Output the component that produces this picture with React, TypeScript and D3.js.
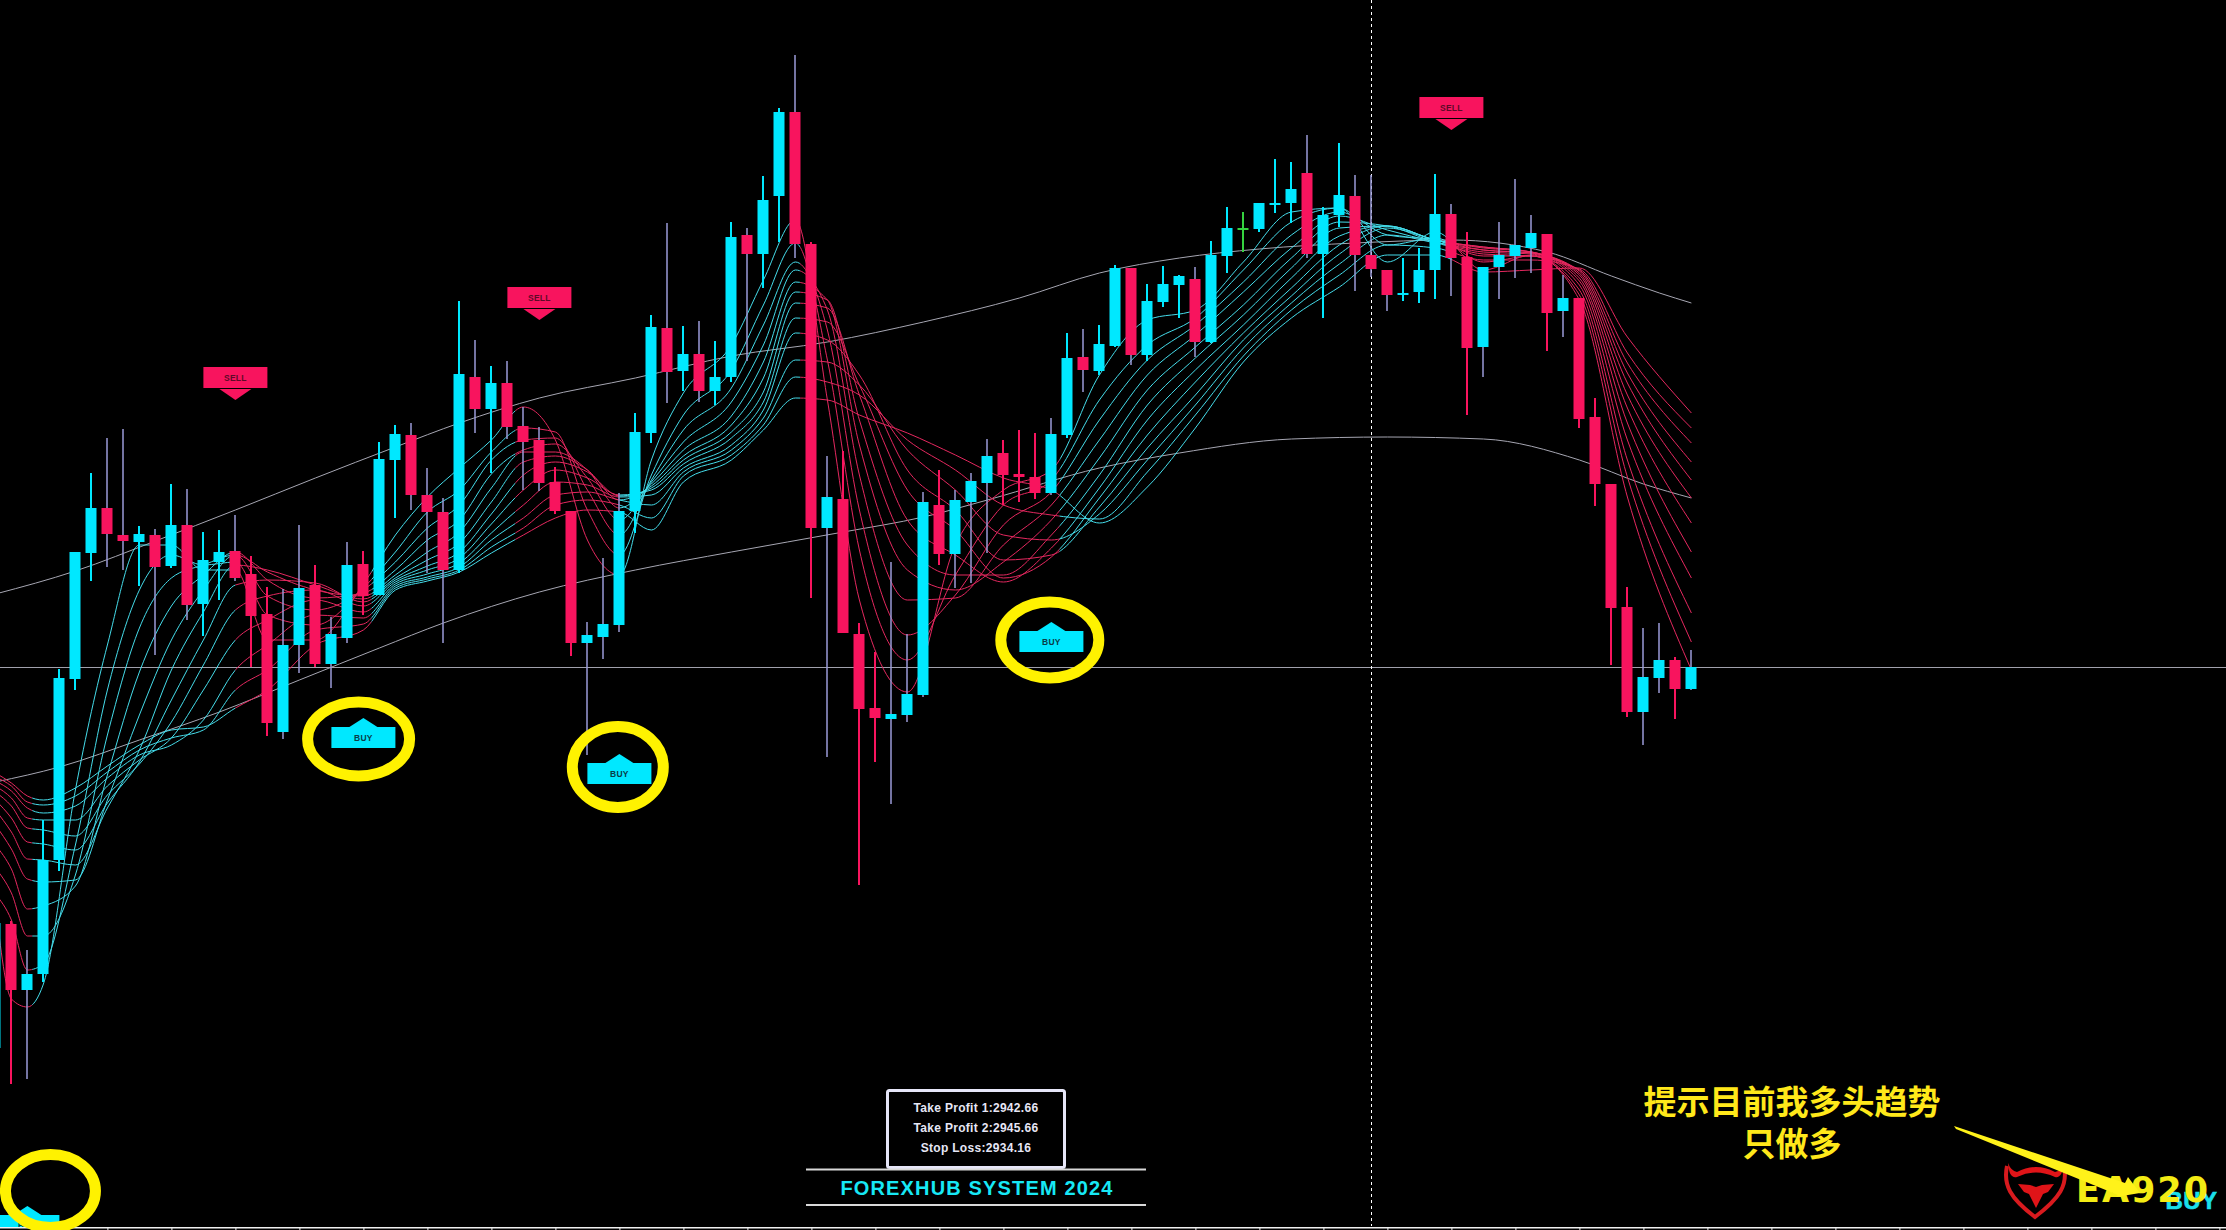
import { useEffect, useRef } from 'react'
import * as d3 from 'd3'

const WIDTH = 2226
const HEIGHT = 1230

const CYAN = '#00e8ff'
const RED = '#f8145e'
const GREEN = '#35d23f'
const PURPLE = '#9a9ad8'
const YELLOW = '#fff200'

// Candles, first bar is -1 (cut by the left edge)
const firstBar = -1
const opens = [2899.2,2911.6,2905.0,2906.6,2918.0,2936.1,2948.7,2953.2,2950.5,2949.8,2950.5,2947.4,2951.5,2943.6,2947.8,2948.9,2946.6,2942.6,2930.8,2939.5,2945.5,2937.6,2940.2,2947.6,2944.5,2958.0,2960.5,2954.5,2952.8,2947.0,2966.3,2963.1,2965.7,2961.4,2960.0,2955.8,2952.9,2939.7,2940.3,2941.5,2952.9,2960.7,2971.2,2966.9,2968.6,2964.9,2966.3,2980.5,2978.6,2984.4,2992.8,2979.6,2951.2,2954.1,2940.6,2933.2,2932.1,2932.5,2934.5,2953.5,2948.6,2953.8,2955.7,2958.7,2956.6,2956.3,2954.7,2960.5,2968.3,2966.9,2969.4,2977.2,2968.5,2973.8,2975.5,2976.1,2969.8,2978.4,2981.1,2981.1,2983.5,2983.7,2986.7,2978.6,2982.5,2984.4,2978.5,2977.0,2974.6,2974.8,2977.0,2982.6,2978.3,2969.3,2977.3,2978.4,2979.2,2980.6,2972.9,2974.2,2962.3,2955.6,2943.3,2932.8,2936.2,2938.0,2935.1]
const closes = [2911.7,2905.0,2906.6,2918.0,2936.2,2948.8,2953.2,2950.6,2949.9,2950.6,2947.3,2951.5,2943.5,2948.0,2948.8,2946.2,2942.4,2931.7,2939.5,2945.2,2937.6,2940.6,2947.5,2944.4,2958.1,2960.6,2954.5,2952.8,2947.0,2966.6,2963.1,2965.7,2961.3,2959.8,2955.7,2952.9,2939.7,2940.5,2941.6,2952.9,2960.8,2971.3,2966.8,2968.6,2964.9,2966.3,2980.3,2978.6,2984.0,2992.8,2979.6,2951.2,2954.3,2940.7,2933.1,2932.2,2932.6,2934.6,2953.8,2948.6,2954.0,2955.9,2958.4,2956.5,2956.3,2954.7,2960.6,2968.2,2967.0,2969.6,2977.2,2968.5,2973.9,2975.6,2976.4,2969.8,2978.5,2981.2,2981.2,2983.7,2983.7,2985.1,2978.6,2982.5,2984.5,2978.5,2977.1,2974.5,2974.7,2977.0,2982.6,2978.2,2969.2,2977.3,2978.5,2979.5,2980.7,2972.7,2974.2,2962.1,2955.6,2943.2,2932.8,2936.3,2938.0,2935.1,2937.3]
const highs = [2911.7,2911.9,2909.0,2922.0,2937.1,2948.8,2956.7,2960.2,2961.1,2951.4,2951.1,2955.6,2955.1,2950.8,2951.0,2952.5,2948.4,2945.3,2945.1,2951.5,2947.5,2942.3,2949.8,2948.9,2959.8,2961.5,2961.7,2957.2,2954.2,2973.9,2970.0,2967.4,2967.9,2963.3,2961.3,2957.3,2952.9,2941.8,2948.2,2954.7,2962.7,2972.5,2981.7,2971.4,2971.9,2969.9,2981.8,2981.2,2986.4,2993.2,2998.5,2979.8,2958.4,2958.9,2941.7,2938.8,2947.8,2940.6,2954.8,2957.0,2955.0,2956.7,2960.1,2960.0,2961.0,2960.7,2962.2,2970.7,2971.1,2971.5,2977.5,2977.2,2975.6,2977.4,2976.5,2977.3,2979.9,2983.3,2982.8,2983.7,2988.1,2987.8,2990.5,2983.3,2989.7,2986.5,2986.5,2977.0,2978.2,2979.2,2986.6,2983.6,2980.8,2977.3,2981.8,2986.1,2982.5,2980.6,2976.5,2974.2,2964.2,2955.6,2945.3,2941.2,2941.7,2938.3,2939.0]
const lows = [2899.2,2895.6,2896.1,2905.8,2916.9,2935.0,2945.9,2947.3,2947.0,2945.4,2938.5,2947.2,2942.0,2940.4,2944.0,2945.9,2937.3,2930.4,2930.1,2936.7,2937.3,2935.2,2939.7,2942.5,2944.5,2952.2,2953.0,2946.7,2939.7,2946.7,2960.7,2956.7,2960.1,2955.0,2954.9,2952.6,2938.4,2928.5,2938.1,2940.8,2950.7,2959.7,2963.7,2964.9,2963.8,2963.5,2965.8,2967.9,2975.2,2979.8,2978.2,2944.2,2928.3,2940.7,2915.5,2927.8,2923.6,2931.8,2934.3,2947.5,2945.2,2945.7,2948.7,2953.5,2953.8,2954.1,2954.5,2960.2,2964.8,2966.5,2969.3,2967.5,2967.9,2973.3,2972.2,2968.3,2969.7,2976.7,2978.8,2980.8,2982.7,2981.7,2978.2,2972.2,2981.3,2974.9,2976.3,2972.9,2973.9,2973.7,2974.1,2974.4,2962.5,2966.3,2974.1,2976.2,2976.7,2968.9,2970.3,2961.2,2953.4,2937.5,2932.3,2929.5,2934.7,2932.1,2935.0]
const purpleWickBars = [-1,1,6,7,9,11,14,17,18,20,21,25,26,27,29,31,32,33,36,37,38,41,43,46,49,51,55,56,57,59,60,61,65,67,70,74,81,84,85,86,90,92,93,94,95,97,102,103,105]
const dojiBars = [77]

// Two slow moving averages
const maUpperBars = [-1,4,9,14,19,24,28,33,39,45,51,57,63,68,73,78,84,90,96,100,103,105]
const maUpper = [2944.6,2946.9,2949.9,2953.0,2956.2,2959.3,2961.7,2964.2,2966.2,2968.4,2969.8,2971.8,2974.2,2976.7,2978.2,2979.1,2979.7,2980.0,2978.8,2976.4,2974.7,2973.7]
const maLowerBars = [-1,3,8,13,18,23,27,33,39,45,52,57,61,68,73,80,86,92,98,102,105]
const maLower = [2925.8,2927.3,2930.0,2932.8,2936.0,2939.2,2941.7,2944.8,2947.0,2948.8,2950.8,2952.3,2954.0,2957.2,2958.7,2960.1,2960.3,2960.1,2958.0,2955.6,2954.2]

// Ribbon: one row per sampled bar, twelve averages from fastest to slowest
const ribbonBars = [-1,0,1,2,4,6,8,10,12,14,16,19,22,24,26,28,30,32,34,36,38,40,42,45,47,49,51,53,56,59,62,65,68,71,74,77,80,83,86,89,92,95,98,101,105]
const ribbonRows = [
  [2913.5,2914.6,2917.2,2919.5,2921.5,2923.0,2924.0,2924.8,2925.4,2925.9,2926.3,2926.7],
  [2904.1,2912.0,2914.7,2917.1,2919.1,2920.8,2922.2,2923.4,2924.2,2924.9,2925.4,2925.7],
  [2903.3,2907.0,2910.4,2913.1,2916.1,2918.1,2919.8,2921.2,2922.2,2923.2,2923.8,2924.4],
  [2905.6,2907.6,2910.4,2913.4,2915.8,2918.0,2919.6,2921.0,2922.0,2922.7,2923.5,2924.0],
  [2925.0,2919.5,2916.5,2915.4,2916.0,2917.5,2919.0,2920.4,2922.0,2923.4,2924.4,2925.2],
  [2939.5,2935.0,2930.5,2926.5,2924.0,2923.2,2923.7,2924.5,2925.4,2926.2,2926.8,2927.4],
  [2949.5,2945.0,2941.2,2936.8,2932.5,2929.0,2927.8,2927.6,2928.0,2928.5,2929.0,2929.5],
  [2949.5,2948.5,2946.2,2943.4,2940.0,2937.0,2934.0,2931.8,2930.2,2929.5,2930.2,2931.0],
  [2947.0,2947.5,2947.5,2946.5,2945.0,2942.8,2940.0,2937.5,2935.0,2932.0,2931.0,2931.3],
  [2947.0,2947.8,2948.5,2948.8,2948.5,2947.5,2945.5,2943.0,2940.0,2937.0,2935.0,2933.2],
  [2940.0,2942.5,2944.4,2946.0,2946.8,2947.0,2946.0,2944.4,2942.0,2939.5,2937.0,2935.0],
  [2940.0,2941.5,2943.0,2944.2,2945.0,2945.5,2945.7,2945.0,2944.0,2942.5,2941.0,2939.5],
  [2945.6,2945.2,2945.0,2944.7,2944.4,2944.1,2943.8,2943.4,2942.8,2942.2,2941.6,2941.0],
  [2950.5,2948.8,2947.8,2947.0,2946.5,2946.2,2946.0,2945.8,2945.6,2945.4,2945.2,2945.0],
  [2954.3,2952.8,2951.2,2950.0,2948.8,2948.0,2947.4,2947.0,2946.6,2946.3,2946.1,2945.9],
  [2957.2,2955.0,2953.5,2952.0,2950.8,2949.7,2948.8,2948.2,2947.7,2947.3,2947.0,2946.8],
  [2960.0,2958.8,2958.0,2956.6,2955.2,2953.8,2952.6,2951.6,2950.7,2950.0,2949.3,2948.7],
  [2963.3,2961.2,2960.0,2959.0,2958.8,2957.8,2956.5,2955.0,2953.5,2952.2,2951.2,2950.5],
  [2960.0,2960.8,2960.2,2959.6,2958.8,2958.4,2957.8,2957.0,2955.8,2954.5,2953.5,2952.2],
  [2950.0,2953.0,2955.0,2956.2,2957.0,2957.0,2956.8,2956.2,2955.5,2954.8,2954.0,2953.0],
  [2946.5,2948.5,2950.5,2952.0,2953.2,2954.0,2954.4,2954.5,2954.3,2954.0,2953.5,2952.8],
  [2958.0,2956.5,2956.0,2955.8,2955.6,2955.4,2955.2,2955.0,2954.5,2953.5,2952.2,2951.0],
  [2964.7,2962.5,2961.0,2959.8,2959.0,2958.4,2958.0,2957.6,2957.2,2956.8,2956.4,2955.8],
  [2969.5,2967.0,2965.2,2963.8,2962.4,2961.5,2960.8,2960.2,2959.5,2959.0,2958.5,2958.0],
  [2976.0,2973.5,2971.5,2969.5,2967.8,2966.2,2964.8,2963.8,2963.0,2962.2,2961.5,2961.0],
  [2982.0,2979.7,2977.8,2977.0,2975.8,2974.8,2973.7,2972.2,2970.7,2968.0,2966.3,2964.2],
  [2964.0,2968.0,2971.0,2973.0,2974.0,2974.0,2973.2,2971.8,2970.0,2967.8,2965.8,2964.0],
  [2944.0,2949.0,2953.0,2956.5,2959.5,2962.0,2964.5,2965.5,2966.5,2965.5,2964.5,2962.5],
  [2934.8,2938.0,2940.5,2944.0,2947.0,2949.5,2952.0,2955.0,2957.0,2959.0,2960.0,2960.7],
  [2949.5,2946.5,2944.5,2944.2,2945.0,2946.5,2948.5,2951.0,2953.0,2955.0,2957.0,2958.5],
  [2955.0,2953.5,2951.5,2949.5,2947.8,2946.5,2945.8,2946.2,2948.0,2950.5,2953.5,2956.2],
  [2957.0,2956.0,2954.8,2953.5,2952.0,2950.5,2949.2,2948.3,2948.5,2950.0,2952.5,2955.0],
  [2966.5,2964.0,2962.0,2960.0,2958.2,2956.5,2955.2,2954.2,2953.3,2952.6,2952.1,2951.7],
  [2972.0,2969.5,2968.0,2966.5,2965.0,2963.5,2962.0,2960.5,2959.2,2958.0,2956.8,2955.3],
  [2973.0,2972.2,2971.5,2970.5,2969.3,2968.2,2967.0,2965.8,2964.5,2963.5,2962.5,2961.2],
  [2977.8,2977.0,2975.8,2974.8,2973.5,2972.5,2971.5,2970.7,2970.0,2969.2,2968.4,2967.8],
  [2982.8,2981.8,2980.5,2979.2,2978.2,2977.2,2976.2,2975.2,2974.4,2973.7,2973.0,2972.2],
  [2983.2,2983.2,2982.8,2982.4,2981.8,2981.2,2980.4,2979.5,2978.6,2977.6,2976.5,2975.3],
  [2977.8,2979.5,2980.5,2981.0,2981.4,2981.4,2981.4,2981.4,2981.2,2980.5,2979.5,2978.5],
  [2980.8,2980.2,2980.0,2979.8,2979.8,2980.0,2980.0,2980.0,2980.0,2979.7,2979.2,2978.5],
  [2977.0,2977.8,2978.4,2978.8,2979.0,2979.2,2979.3,2979.3,2979.0,2978.6,2978.0,2976.8],
  [2978.5,2978.4,2978.4,2978.6,2978.7,2978.8,2978.8,2978.8,2978.7,2978.4,2978.0,2977.0],
  [2974.0,2974.5,2975.0,2975.5,2975.9,2976.2,2976.5,2976.7,2976.9,2977.0,2977.1,2977.2],
  [2954.3,2956.3,2958.0,2960.0,2961.7,2963.2,2964.5,2965.7,2966.7,2967.7,2968.7,2970.3],
  [2937.0,2939.8,2942.7,2946.2,2948.8,2951.7,2954.2,2956.0,2957.8,2959.7,2961.2,2962.7],
]
// Bar ranges where the ribbon is drawn red, cyan everywhere else
const bearRanges = [[-2, 1.3], [14, 22.5], [31.5, 38], [49.3, 65.5], [90, 106]]

// Signals, the price is where the arrow tip sits
const sellBars = [14, 33, 90]
const sellPrices = [2964.0, 2972.0, 2991.0]
const buyBars = [1, 22, 38, 65]
const buyPrices = [2883.4, 2932.2, 2928.6, 2941.8]

// Hand drawn yellow rings around the buy signals
const ringBars = [21.7, 37.9, 64.9, 2.44]
const ringPrices = [2930.1, 2927.3, 2940.0, 2884.9]
const ringRx = [51, 45.5, 49, 45]
const ringRy = [37, 40.5, 38, 36.5]

const crossBar = 85
const crossPrice = 2937.3
const axisTicks = d3.range(2, 139, 4)

const panelLines = ['Take Profit 1:2942.66', 'Take Profit 2:2945.66', 'Stop Loss:2934.16']
const panelTitle = 'FOREXHUB SYSTEM 2024'
const noteLines = ['提示目前我多头趋势', '只做多']

export default function App() {
  const svgRef = useRef<SVGSVGElement>(null)

  useEffect(() => {
    if (!svgRef.current) return
    const svg = d3.select(svgRef.current)
    svg.selectAll('*').remove()

    const x = d3.scaleLinear().domain([0, 138]).range([11.4, 2219.4])
    const y = d3.scaleLinear().domain([3004, 2881]).range([0, HEIGHT])

    const defs = svg.append('defs')
    defs
      .append('clipPath')
      .attr('id', 'bear-clip')
      .selectAll('rect')
      .data(bearRanges)
      .join('rect')
      .attr('x', (d) => x(d[0]))
      .attr('width', (d) => x(d[1]) - x(d[0]))
      .attr('y', 0)
      .attr('height', HEIGHT)
    // Bull ranges are the gaps between the bear ranges
    const bullClip = defs.append('clipPath').attr('id', 'bull-clip')
    bearRanges.slice(0, -1).forEach((range, i) => {
      bullClip
        .append('rect')
        .attr('x', x(range[1]))
        .attr('width', x(bearRanges[i + 1][0]) - x(range[1]))
        .attr('y', 0)
        .attr('height', HEIGHT)
    })
    defs.append('clipPath').attr('id', 'chart-clip').append('rect').attr('width', WIDTH).attr('height', 1227)

    svg.append('rect').attr('width', WIDTH).attr('height', HEIGHT).attr('fill', '#000')

    // Crosshair
    svg
      .append('line')
      .attr('x1', 0)
      .attr('x2', WIDTH)
      .attr('y1', Math.round(y(crossPrice)) + 0.5)
      .attr('y2', Math.round(y(crossPrice)) + 0.5)
      .attr('stroke', '#a0a0ac')
      .attr('stroke-width', 1)
    svg
      .append('line')
      .attr('x1', Math.round(x(crossBar)) + 0.5)
      .attr('x2', Math.round(x(crossBar)) + 0.5)
      .attr('y1', 0)
      .attr('y2', 1226)
      .attr('stroke', '#ffffff')
      .attr('stroke-width', 1)
      .attr('stroke-dasharray', '3,3')

    // Moving averages
    const drawMa = (bars: number[], values: number[]) => {
      const line = d3
        .line<number>()
        .x((_, i) => x(bars[i]))
        .y((d) => y(d))
        .curve(d3.curveMonotoneX)
      svg.append('path').attr('d', line(values)).attr('fill', 'none').attr('stroke', '#a6a6b2').attr('stroke-width', 1)
    }
    drawMa(maUpperBars, maUpper)
    drawMa(maLowerBars, maLower)

    // Ribbon, drawn twice and clipped to the bull and bear ranges
    const ribbonLine = d3
      .line<number>()
      .x((_, i) => x(ribbonBars[i]))
      .y((d) => y(d))
      .curve(d3.curveMonotoneX)
    const lineCount = ribbonRows[0].length
    const ribbonSeries = d3.range(lineCount).map((j) => ribbonRows.map((row) => row[j]))
    const drawRibbon = (clipId: string, color: string) => {
      svg
        .append('g')
        .attr('clip-path', `url(#${clipId})`)
        .selectAll('path')
        .data(ribbonSeries)
        .join('path')
        .attr('d', (d) => ribbonLine(d))
        .attr('fill', 'none')
        .attr('stroke', color)
        .attr('stroke-width', 1)
    }
    drawRibbon('bull-clip', '#45dcea')
    drawRibbon('bear-clip', '#e4285f')

    // Candles
    const bars = opens.map((open, i) => ({
      bar: firstBar + i,
      open,
      close: closes[i],
      high: highs[i],
      low: lows[i],
    }))
    const bodyColor = (d: (typeof bars)[number]) =>
      dojiBars.includes(d.bar) ? GREEN : d.close >= d.open ? CYAN : RED
    const isPurple = (d: (typeof bars)[number]) => purpleWickBars.includes(d.bar)

    const candles = svg.append('g')
    candles
      .selectAll('rect.wick')
      .data(bars)
      .join('rect')
      .attr('class', 'wick')
      .attr('x', (d) => Math.round(x(d.bar)) - (isPurple(d) ? 0.75 : 1))
      .attr('width', (d) => (isPurple(d) ? 1.5 : 2))
      .attr('y', (d) => y(d.high))
      .attr('height', (d) => y(d.low) - y(d.high))
      .attr('fill', (d) => (isPurple(d) ? PURPLE : bodyColor(d)))
    candles
      .selectAll('rect.body')
      .data(bars)
      .join('rect')
      .attr('class', 'body')
      .attr('x', (d) => Math.round(x(d.bar)) - 5.5)
      .attr('width', 11)
      .attr('y', (d) => y(Math.max(d.open, d.close)))
      .attr('height', (d) => Math.max(2, Math.abs(y(d.open) - y(d.close))))
      .attr('fill', bodyColor)

    // Signal flags
    const flags = svg.append('g').attr('clip-path', 'url(#chart-clip)')
    const triangle = d3.line()
    sellBars.forEach((bar, i) => {
      const cx = x(bar)
      const tip = y(sellPrices[i])
      flags.append('rect').attr('x', cx - 32).attr('y', tip - 33).attr('width', 64).attr('height', 21).attr('fill', RED)
      flags
        .append('path')
        .attr('d', triangle([[cx - 16, tip - 11], [cx + 16, tip - 11], [cx, tip]]) + 'Z')
        .attr('fill', RED)
      flags
        .append('text')
        .attr('x', cx)
        .attr('y', tip - 19.5)
        .attr('text-anchor', 'middle')
        .attr('font-family', '"Liberation Sans", sans-serif')
        .attr('font-weight', 700)
        .attr('font-size', 8.5)
        .attr('letter-spacing', 0.3)
        .attr('fill', '#5e0a28')
        .text('SELL')
    })
    buyBars.forEach((bar, i) => {
      const cx = x(bar)
      const tip = y(buyPrices[i])
      flags.append('rect').attr('x', cx - 32).attr('y', tip + 9).attr('width', 64).attr('height', 21).attr('fill', CYAN)
      flags
        .append('path')
        .attr('d', triangle([[cx - 14, tip + 9], [cx + 14, tip + 9], [cx, tip]]) + 'Z')
        .attr('fill', CYAN)
      flags
        .append('text')
        .attr('x', cx)
        .attr('y', tip + 23)
        .attr('text-anchor', 'middle')
        .attr('font-family', '"Liberation Sans", sans-serif')
        .attr('font-weight', 700)
        .attr('font-size', 8.5)
        .attr('letter-spacing', 0.3)
        .attr('fill', '#0a3c48')
        .text('BUY')
    })

    // Time axis, ticks only
    svg.append('rect').attr('x', 0).attr('y', 1227).attr('width', WIDTH).attr('height', 1.5).attr('fill', '#f0f0f0')
    const axis = svg
      .append('g')
      .attr('transform', 'translate(0,1228)')
      .call(d3.axisBottom(x).tickValues(axisTicks).tickSize(4).tickFormat(() => ''))
    axis.select('.domain').remove()
    axis.selectAll('line').attr('stroke', '#f0f0f0')

    // Rings
    svg
      .append('g')
      .selectAll('ellipse')
      .data(ringBars)
      .join('ellipse')
      .attr('cx', (d) => x(d))
      .attr('cy', (_, i) => y(ringPrices[i]))
      .attr('rx', (_, i) => ringRx[i])
      .attr('ry', (_, i) => ringRy[i])
      .attr('fill', 'none')
      .attr('stroke', YELLOW)
      .attr('stroke-width', 11)

    // Take profit panel
    const panel = svg.append('g')
    panel
      .append('rect')
      .attr('x', 887.5)
      .attr('y', 1090.5)
      .attr('width', 177)
      .attr('height', 77)
      .attr('rx', 2)
      .attr('fill', '#000')
      .attr('stroke', '#e6e6f8')
      .attr('stroke-width', 3)
    panel
      .selectAll('text.info')
      .data(panelLines)
      .join('text')
      .attr('class', 'info')
      .attr('x', 976)
      .attr('y', (_, i) => 1112 + i * 20)
      .attr('text-anchor', 'middle')
      .attr('font-family', '"Liberation Sans", sans-serif')
      .attr('font-weight', 700)
      .attr('font-size', 12)
      .attr('letter-spacing', 0.3)
      .attr('fill', '#e6e6f5')
      .text((d) => d)
    ;[1169.5, 1205].forEach((ly) => {
      panel
        .append('line')
        .attr('x1', 806)
        .attr('x2', 1146)
        .attr('y1', ly)
        .attr('y2', ly)
        .attr('stroke', '#d8d8d8')
        .attr('stroke-width', 2)
    })
    panel
      .append('text')
      .attr('x', 977)
      .attr('y', 1195)
      .attr('text-anchor', 'middle')
      .attr('font-family', '"Liberation Sans", sans-serif')
      .attr('font-weight', 700)
      .attr('font-size', 20)
      .attr('letter-spacing', 1.15)
      .attr('fill', '#17e8f5')
      .text(panelTitle)

    // Note on the bottom right
    svg
      .selectAll('text.note')
      .data(noteLines)
      .join('text')
      .attr('class', 'note')
      .attr('x', 1792)
      .attr('y', (_, i) => 1114 + i * 42)
      .attr('text-anchor', 'middle')
      .attr('font-family', '"Noto Sans CJK SC", sans-serif')
      .attr('font-weight', 700)
      .attr('font-size', 33)
      .attr('fill', '#ffe81a')
      .text((d) => d)

    // Cyan BUY sits under the watermark
    svg
      .append('text')
      .attr('x', 2191.5)
      .attr('y', 1209)
      .attr('text-anchor', 'middle')
      .attr('font-family', '"Liberation Sans", sans-serif')
      .attr('font-weight', 700)
      .attr('font-size', 24)
      .attr('letter-spacing', 0.5)
      .attr('stroke', '#1adfea')
      .attr('stroke-width', 0.6)
      .attr('fill', '#1adfea')
      .text('BUY')

    // Watermark logo
    const logo = svg.append('g').attr('fill', '#e01418')
    logo
      .append('path')
      .attr('d', 'M2007,1166 C2003,1185 2010,1198 2035,1217 C2060,1198 2068,1185 2064,1166')
      .attr('fill', 'none')
      .attr('stroke', '#d81a1e')
      .attr('stroke-width', 4)
    logo
      .append('path')
      .attr('d', 'M2008,1163 Q2011,1171 2017,1172 Q2036,1162 2055,1172 Q2062,1171 2064,1163 Q2062,1179 2055,1177 Q2036,1168 2017,1177 Q2009,1179 2008,1163 Z')
    logo
      .append('path')
      .attr('d', 'M2018,1184 L2030,1185 L2036,1187 L2042,1185 L2054,1184 L2048,1192 L2043,1194 L2036,1208 L2029,1194 L2024,1192 Z')

    svg
      .append('text')
      .attr('x', 2076)
      .attr('y', 1202)
      .attr('font-family', '"DejaVu Sans", sans-serif')
      .attr('font-weight', 700)
      .attr('font-size', 35)
      .attr('letter-spacing', 2)
      .attr('fill', '#f4ec14')
      .text('EA920')

    // Pointer from the note to the watermark
    svg
      .append('path')
      .attr('d', 'M1954,1126 L1956,1129 L2118,1195 L2116,1197 L2140,1193 L2128,1177 L2125,1183 Z')
      .attr('fill', '#fff21a')
  }, [])

  return (
    <svg
      ref={svgRef}
      width={WIDTH}
      height={HEIGHT}
      style={{ position: 'fixed', left: 0, top: 0, display: 'block', background: '#000' }}
    />
  )
}
